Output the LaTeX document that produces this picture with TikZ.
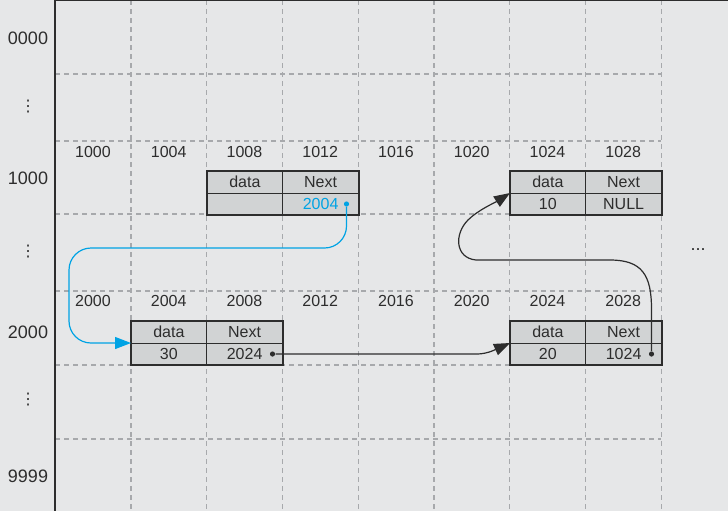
\documentclass[tikz,border=0pt]{standalone}
\usepackage{fontspec}
\setmainfont{Liberation Sans}
\newfontfamily\dotsfont{DejaVu Sans}
\usepackage{tikz}
\usetikzlibrary{positioning,arrows.meta,fit,backgrounds}
\definecolor{paper}{RGB}{230,231,232}
\definecolor{cellfill}{RGB}{209,211,212}
\definecolor{gridline}{RGB}{167,169,172}
\definecolor{inkline}{RGB}{45,45,45}
\definecolor{linkblue}{RGB}{0,163,228}
\tikzset{
  cell/.style={draw=inkline, line width=0.5pt, fill=cellfill, minimum width=37.875pt, minimum height=11pt, inner sep=0pt, outer sep=0pt, text=inkline, text height=5.8pt, text depth=0pt, font=\fontsize{8}{9}\selectfont},
  listbox/.style={draw=inkline, line width=1pt, inner sep=0pt, outer sep=0pt},
  memgrid/.style={draw=gridline, line width=0.6pt, dash pattern=on 2.5pt off 2pt},
  addr/.style={font=\fontsize{8}{9}\selectfont, text=inkline},
  rowaddr/.style={font=\fontsize{9}{10}\selectfont, text=inkline},
  vdotsaddr/.style={font=\dotsfont\fontsize{8}{9}\selectfont, text=inkline},
  ptr/.style={circle, fill=inkline, inner sep=0pt, minimum size=2.6pt},
  link/.style={-{Triangle[length=8pt,width=6pt]}, line width=0.6pt, draw=inkline},
}

\begin{document}
\begin{tikzpicture}[x=0.5pt, y=-0.5pt]
\useasboundingbox[fill=paper] (0,0) rectangle (728,511);
% memory grid
\foreach \k in {0,...,7}
  \draw[memgrid] ({131+75.75*\k},0) -- ({131+75.75*\k},511);
\foreach \yy in {74,141,214,291,365,439}
  \draw[memgrid] (55,\yy) -- (661,\yy);
\draw[inkline, line width=0.8pt] (55,0) -- (55,511);
\draw[inkline, line width=1.2pt] (55,0) -- (728,0);
% row addresses
\node[rowaddr] (r0000) at (28,38) {0000};
\node[vdotsaddr] (rdots1) at (28,107) {⋮};
\node[rowaddr] (r1000) at (28,178) {1000};
\node[vdotsaddr] (rdots2) at (28,252) {⋮};
\node[rowaddr] (r2000) at (28,332) {2000};
\node[vdotsaddr] (rdots3) at (28,400) {⋮};
\node[rowaddr] (r9999) at (28,476) {9999};
\node[rowaddr] (more) at (698,250) {...};
% byte addresses
\foreach \a [count=\i from 0] in {1000,1004,1008,1012,1016,1020,1024,1028}
  \node[addr] (c\a) at ({92.9+75.75*\i},152) {\a};
\foreach \a [count=\i from 0] in {2000,2004,2008,2012,2016,2020,2024,2028}
  \node[addr] (c\a) at ({92.9+75.75*\i},301) {\a};
% list node at 1008
\node[cell, anchor=north west] (b1008d) at (207,171) {data};
\node[cell, right=0pt of b1008d] (b1008n) {Next};
\node[cell, below=0pt of b1008d] (b1008dv) {};
\node[cell, below=0pt of b1008n, text=linkblue] (b1008nv) {2004};
\node[listbox, fit=(b1008d)(b1008nv)] (b1008) {};
% list node at 1024
\node[cell, anchor=north west] (b1024d) at (510,171) {data};
\node[cell, right=0pt of b1024d] (b1024n) {Next};
\node[cell, below=0pt of b1024d] (b1024dv) {10};
\node[cell, below=0pt of b1024n] (b1024nv) {NULL};
\node[listbox, fit=(b1024d)(b1024nv)] (b1024) {};
% list node at 2004
\node[cell, anchor=north west] (b2004d) at (131,321) {data};
\node[cell, right=0pt of b2004d] (b2004n) {Next};
\node[cell, below=0pt of b2004d] (b2004dv) {30};
\node[cell, below=0pt of b2004n] (b2004nv) {2024};
\node[listbox, fit=(b2004d)(b2004nv)] (b2004) {};
% list node at 2024
\node[cell, anchor=north west] (b2024d) at (510,321) {data};
\node[cell, right=0pt of b2024d] (b2024n) {Next};
\node[cell, below=0pt of b2024d] (b2024dv) {20};
\node[cell, below=0pt of b2024n] (b2024nv) {1024};
\node[listbox, fit=(b2024d)(b2024nv)] (b2024) {};
% pointers
\node[ptr, fill=linkblue] (p1008) at ([xshift=-6pt]b1008nv.east) {};
\node[ptr] (p2004) at ([xshift=-5pt]b2004nv.east) {};
\node[ptr] (p2024) at ([xshift=-5pt]b2024nv.east) {};
\coordinate (bendl) at (69,248);
\draw[link, draw=linkblue, rounded corners=11pt] (p1008) |- (bendl) |- (b2004.west);
\draw[link, rounded corners=4pt] (p2004) -- ++(213,0) -- (b2024.west);
\draw[link] (p2024) -- ++(0,-45) .. controls ++(0,-34) and (642,260) .. (610,260)
  -- (476,260) .. controls (455,258) and (454,234) .. (468,220)
  .. controls (478,210) and (496,202) .. (b1024.west);
\end{tikzpicture}
\end{document}
